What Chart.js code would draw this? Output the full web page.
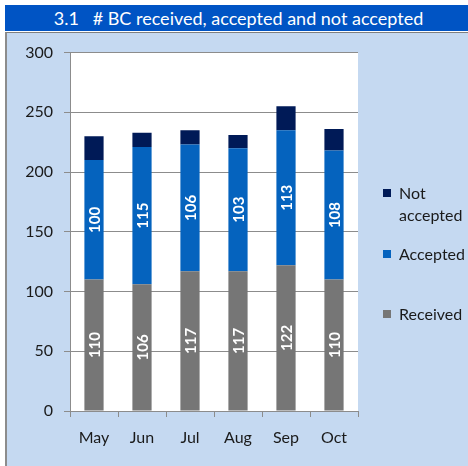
<!DOCTYPE html>
<html><head><meta charset="utf-8">
<script src="https://cdn.jsdelivr.net/npm/chart.js@4"></script>
<style>
html,body{margin:0;padding:0;background:#fff;width:468px;height:466px;overflow:hidden;font-family:Lato,"Liberation Sans",sans-serif;}
#hdr{position:absolute;left:5px;top:5px;width:463px;height:26px;background:#0054C4;color:#fff;font-size:18px;line-height:26px;text-align:center;white-space:pre;padding-left:4px;box-sizing:border-box;}
#panel{position:absolute;left:5px;top:32px;width:463px;height:434px;background:#C5D9F1;border-top:1px solid #7f7f7f;border-left:2px solid #8c8c8c;box-sizing:border-box;}
#cwrap{position:absolute;left:5px;top:32px;width:463px;height:434px;}
.lg{position:absolute;left:383px;font-size:16px;color:#1a1a1a;line-height:22px;}
.sw{position:absolute;left:0;width:8px;height:8px;}
.lt{position:absolute;left:16px;white-space:pre;}
</style></head>
<body>
<div id="hdr">3.1   # BC received, accepted and not accepted</div>
<div id="panel"></div>
<div id="cwrap"><canvas id="c" width="463" height="434"></canvas></div>
<div id="legend"></div>
<script>
const categories = ["May","Jun","Jul","Aug","Sep","Oct"];
const received = [110,106,117,117,122,110];
const accepted = [100,115,106,103,113,108];
const notAccepted = [20,12,12,11,20,18];
const yTicks = [0,50,100,150,200,250,300];
const seriesNames = ["Received","Accepted","Not accepted"];
const seriesColors = ["#767676","#0563BE","#001A57"];

const labelPlugin = {
  id:'segLabels',
  afterDatasetsDraw(chart){
    const ctx = chart.ctx;
    [0,1].forEach(di=>{
      const meta = chart.getDatasetMeta(di);
      meta.data.forEach((bar,i)=>{
        const v = chart.data.datasets[di].data[i];
        const yc = (bar.y + bar.base)/2;
        ctx.save();
        ctx.translate(bar.x, yc);
        ctx.rotate(-Math.PI/2);
        ctx.fillStyle = '#fff';
        ctx.font = 'bold 15px Lato';
        ctx.textAlign = 'center';
        ctx.textBaseline = 'middle';
        ctx.fillText(String(v), 0, 1);
        ctx.restore();
      });
    });
  }
};

new Chart(document.getElementById('c'), {
  type:'bar',
  data:{
    labels:categories,
    datasets:[
      {label:seriesNames[0],data:received,backgroundColor:seriesColors[0]},
      {label:seriesNames[1],data:accepted,backgroundColor:seriesColors[1]},
      {label:seriesNames[2],data:notAccepted,backgroundColor:seriesColors[2]}
    ]
  },
  options:{
    responsive:false,animation:false,
    layout:{padding:{left:0,right:110,top:20,bottom:0}},
    datasets:{bar:{barPercentage:0.4,categoryPercentage:1}},
    plugins:{legend:{display:false},tooltip:{enabled:false}},
    scales:{
      x:{stacked:true,
        grid:{drawOnChartArea:false,offset:true,tickLength:6,color:'#8c8c8c'},
        border:{color:'#8c8c8c'},
        ticks:{padding:11,color:'#1a1a1a',font:{family:'Lato',size:16}},
        afterFit(s){s.height=55;}
      },
      y:{stacked:true,min:0,max:300,
        afterBuildTicks(s){s.ticks=yTicks.map(v=>({value:v}));},
        grid:{color:'#8c8c8c',tickLength:6},
        border:{color:'#8c8c8c'},
        ticks:{padding:11,color:'#1a1a1a',font:{family:'Lato',size:16}},
        afterFit(s){s.width=65;}
      }
    }
  },
  plugins:[labelPlugin,{id:'bgArea',beforeDraw(chart){const a=chart.chartArea,c=chart.ctx;c.save();c.fillStyle='#fff';c.fillRect(a.left,a.top,a.right-a.left,a.bottom-a.top);c.restore();}}]
});

// legend (top to bottom: Not accepted, Accepted, Received)
const lgPos = [182,243,303];
const order = [2,1,0];
const lg = document.getElementById('legend');
order.forEach((si,k)=>{
  const d = document.createElement('div');
  d.className='lg'; d.style.top=lgPos[k]+'px';
  const sw = document.createElement('div'); sw.className='sw'; sw.style.top='7px'; sw.style.background=seriesColors[si];
  const t = document.createElement('div'); t.className='lt'; t.textContent = si===2 ? "Not\naccepted" : seriesNames[si];
  d.appendChild(sw); d.appendChild(t); lg.appendChild(d);
});
</script>
</body></html>
